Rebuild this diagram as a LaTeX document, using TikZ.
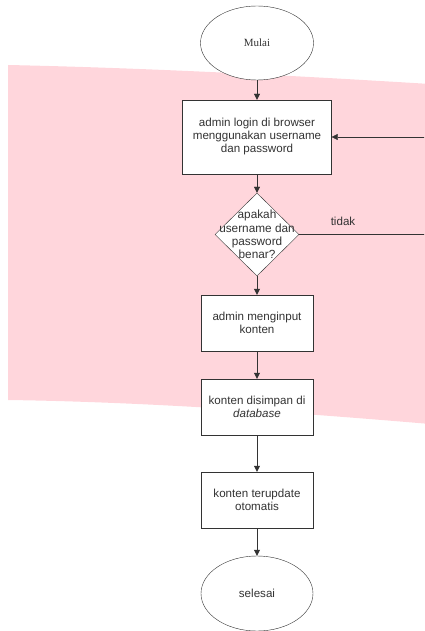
\documentclass[tikz,border=0pt]{standalone}
\usepackage{fontspec}
\setmainfont{Liberation Serif}
\setsansfont{Liberation Sans}
\usepackage{tikz}
\usetikzlibrary{positioning,shapes.geometric,arrows.meta}
\pgfdeclarelayer{background}
\pgfsetlayers{background,main}
\definecolor{pinkbg}{RGB}{255,214,220}
\definecolor{linegray}{RGB}{51,51,51}

\begin{document}
\begin{tikzpicture}[x=1pt,y=-1pt,
	boxnode/.style={rectangle, draw=linegray, fill=white, text=linegray, font=\sffamily\fontsize{11.6}{13}\selectfont, align=center, minimum width=112pt, minimum height=56pt, inner sep=2pt},
	ovalnode/.style={ellipse, draw=linegray, fill=white, text=linegray, minimum width=113pt, minimum height=74pt, inner sep=0pt},
	decisionnode/.style={diamond, draw=linegray, fill=white, minimum width=84pt, minimum height=83pt, inner sep=0pt},
	flow/.style={draw=linegray, -{Triangle[length=6pt,width=6pt]}},
	]
	\clip (0,0) rectangle (424,631);
	%Nodes
	\node[ovalnode]      (mulai)   at (257,43)  {\fontsize{11}{13}\selectfont Mulai};
	\node[boxnode, minimum width=149pt, minimum height=74pt] (login) at (257,137) {admin login di browser\\menggunakan username\\dan password};
	\node[decisionnode]  (cek)     at (257,234.5) {};
	\node[text=linegray, font=\sffamily\fontsize{11.8}{13.3}\selectfont, align=center, inner sep=0pt] (cektext) at (cek.center) {apakah\\username dan\\password\\benar?};
	\node[boxnode]       (input)   at (257,323) {admin menginput\\konten};
	\node[boxnode]       (simpan)  at (257,407) {konten disimpan di\\\textit{database}};
	\node[boxnode]       (update)  at (257,500) {konten terupdate\\otomatis};
	\node[ovalnode, minimum width=112pt, minimum height=75pt] (selesai) at (257,593.5) {\sffamily\fontsize{11.6}{13}\selectfont selesai};
	\coordinate          (kanan1)  at (428,234.5);
	\coordinate          (kanan2)  at (428,137);
	\node[text=linegray, font=\sffamily\fontsize{11.6}{13}\selectfont] (tidak) at (343,221) {tidak};

	\begin{pgfonlayer}{background}
	\fill[pinkbg] (8,65) .. controls (150,68) and (300,76) .. (430,84) -- (430,424) .. controls (300,413) and (150,402) .. (8,400) -- cycle;
	\end{pgfonlayer}

	\draw[flow] (mulai) -- (login);
	\draw[flow] (login) -- (cek);
	\draw[flow] (cek) -- (input);
	\draw[flow] (input) -- (simpan);
	\draw[flow] (simpan) -- (update);
	\draw[flow] (update) -- (selesai);
	\draw[flow] (cek.east) -- (kanan1) -- (kanan2) -- (login.east);
\end{tikzpicture}
\end{document}
